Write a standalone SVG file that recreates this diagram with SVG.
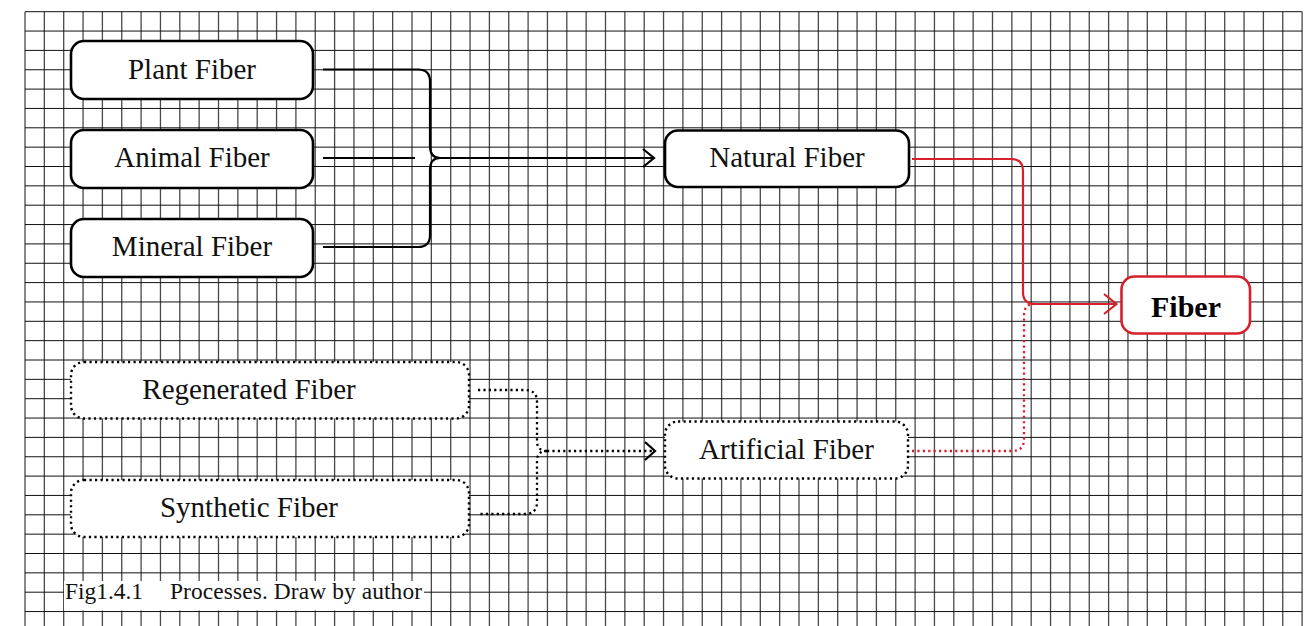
<svg xmlns="http://www.w3.org/2000/svg" width="1313" height="626" viewBox="0 0 1313 626">
<style>
.bg{fill:#fff}
.gv{stroke:#4a4a4a;stroke-width:1.3;fill:none}
.gh{stroke:#111;stroke-width:1;fill:none}
.box{fill:#fff;stroke:#000;stroke-width:2.6}
.dbox{fill:#fff;stroke:#000;stroke-width:2.4;stroke-dasharray:2.2 3.3}
.rbox{fill:#fff;stroke:#d6202b;stroke-width:2.6}
.lbl{font-family:"Liberation Serif","Times New Roman",serif;font-size:29px;fill:#111;text-anchor:middle}
.bold{font-weight:bold;font-size:30px;fill:#000}
.c{fill:none;stroke:#000;stroke-width:2.2}
.cd{fill:none;stroke:#000;stroke-width:2.3;stroke-dasharray:2.2 3.2}
.cr{fill:none;stroke:#d6202b;stroke-width:2.2}
.crd{fill:none;stroke:#d6202b;stroke-width:2.3;stroke-dasharray:2.2 3.2}
.cap{font-family:"Liberation Serif","Times New Roman",serif;font-size:23.4px;fill:#111}
</style>
<rect class="bg" x="0" y="0" width="1313" height="626"/>
<g id="grid">
<path class="gv" d="M25,11.7V626M44.35,11.7V626M63.7,11.7V626M83.05,11.7V626M102.4,11.7V626M121.75,11.7V626M141.1,11.7V626M160.45,11.7V626M179.8,11.7V626M199.15,11.7V626M218.5,11.7V626M237.85,11.7V626M257.2,11.7V626M276.55,11.7V626M295.9,11.7V626M315.25,11.7V626M334.6,11.7V626M353.95,11.7V626M373.3,11.7V626M392.65,11.7V626M412,11.7V626M431.35,11.7V626M450.7,11.7V626M470.05,11.7V626M489.4,11.7V626M508.75,11.7V626M528.1,11.7V626M547.45,11.7V626M566.8,11.7V626M586.15,11.7V626M605.5,11.7V626M624.85,11.7V626M644.2,11.7V626M663.55,11.7V626M682.9,11.7V626M702.25,11.7V626M721.6,11.7V626M740.95,11.7V626M760.3,11.7V626M779.65,11.7V626M799,11.7V626M818.35,11.7V626M837.7,11.7V626M857.05,11.7V626M876.4,11.7V626M895.75,11.7V626M915.1,11.7V626M934.45,11.7V626M953.8,11.7V626M973.15,11.7V626M992.5,11.7V626M1011.85,11.7V626M1031.2,11.7V626M1050.55,11.7V626M1069.9,11.7V626M1089.25,11.7V626M1108.6,11.7V626M1127.95,11.7V626M1147.3,11.7V626M1166.65,11.7V626M1186,11.7V626M1205.35,11.7V626M1224.7,11.7V626M1244.05,11.7V626M1263.4,11.7V626M1282.75,11.7V626M1302.1,11.7V626"/>
<path class="gh" d="M25,11.7H1302.1M25,31.05H1302.1M25,50.4H1302.1M25,69.75H1302.1M25,89.1H1302.1M25,108.45H1302.1M25,127.8H1302.1M25,147.15H1302.1M25,166.5H1302.1M25,185.85H1302.1M25,205.2H1302.1M25,224.55H1302.1M25,243.9H1302.1M25,263.25H1302.1M25,282.6H1302.1M25,301.95H1302.1M25,321.3H1302.1M25,340.65H1302.1M25,360H1302.1M25,379.35H1302.1M25,398.7H1302.1M25,418.05H1302.1M25,437.4H1302.1M25,456.75H1302.1M25,476.1H1302.1M25,495.45H1302.1M25,514.8H1302.1M25,534.15H1302.1M25,553.5H1302.1M25,572.85H1302.1M25,592.2H1302.1M25,611.55H1302.1"/>
</g>
<g id="connectors">
<path class="c" d="M323,69.5H418Q430,69.5 430,81.5V146Q430,158 440,158"/>
<path class="c" d="M440,158Q430,158 430,170V235Q430,247 418,247H323"/>
<path class="c" d="M323,158H415"/>
<path class="c" d="M440,158H654M643,149L654,158L643,167"/>
<path class="cr" d="M912,159H1011Q1023,159 1023,171V292Q1023,304 1035,304H1116.5M1104,294L1116.5,304L1104,314"/>
<path class="crd" d="M912,451H1012Q1024,451 1024,439V316Q1024,304 1034,304"/>
<path class="cd" d="M478,390H525Q537,390 537,402V441Q537,451 547,451"/>
<path class="cd" d="M547,451Q537,451 537,461V502Q537,514 525,514H478"/>
<path class="cd" d="M547,451H655"/>
<path class="c" d="M645,442L655,451L645,460"/>
</g>
<g id="plant"><rect class="box" x="71" y="41" width="242" height="58" rx="13"/><text class="lbl" x="192" y="79">Plant Fiber</text></g>
<g id="animal"><rect class="box" x="71" y="130" width="242" height="58" rx="13"/><text class="lbl" x="192" y="167">Animal Fiber</text></g>
<g id="mineral"><rect class="box" x="71" y="219" width="242" height="58" rx="13"/><text class="lbl" x="192" y="256">Mineral Fiber</text></g>
<g id="natural"><rect class="box" x="665" y="130.5" width="244" height="56.5" rx="13"/><text class="lbl" x="787" y="167">Natural Fiber</text></g>
<g id="fiber"><rect class="rbox" x="1121.5" y="276.5" width="128.5" height="57" rx="13"/><text class="lbl bold" x="1186" y="316.5">Fiber</text></g>
<g id="regenerated"><rect class="dbox" x="71" y="362" width="398" height="56.5" rx="13"/><text class="lbl" x="249" y="398.5">Regenerated Fiber</text></g>
<g id="synthetic"><rect class="dbox" x="71" y="480" width="398" height="57" rx="13"/><text class="lbl" x="249" y="517">Synthetic Fiber</text></g>
<g id="artificial"><rect class="dbox" x="665" y="421.5" width="243" height="57" rx="13"/><text class="lbl" x="786.5" y="458.5">Artificial Fiber</text></g>
<g id="caption"><rect class="bg" x="64" y="581" width="360" height="29.5"/><text class="cap" x="65" y="599.3">Fig1.4.1</text><text class="cap" x="170" y="599.3" textLength="252">Processes. Draw by author</text></g>
</svg>
